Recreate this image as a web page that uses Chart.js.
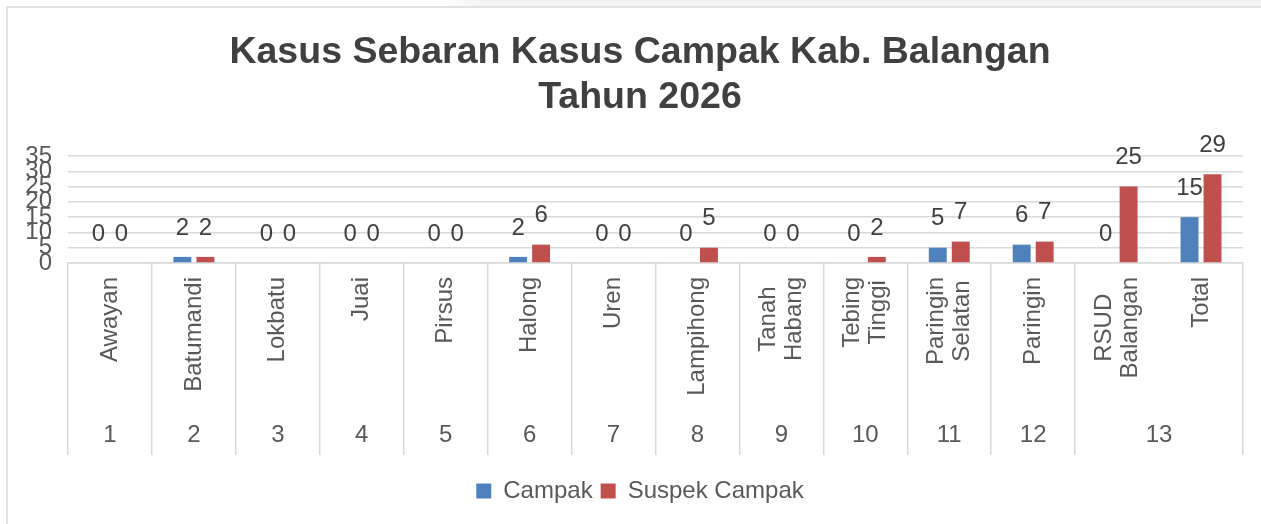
<!DOCTYPE html>
<html lang="id">
<head>
<meta charset="UTF-8">
<title>Kasus Sebaran Kasus Campak Kab. Balangan</title>
<script src="https://cdn.jsdelivr.net/npm/chart.js@4.4.1/dist/chart.umd.min.js"></script>
<style>
  html, body { margin: 0; padding: 0; background: #fff; }
  #wrap { position: relative; width: 1261px; height: 524px; overflow: hidden; }
  #strip { position: absolute; left: 440px; top: 0; width: 821px; height: 6px;
           background: linear-gradient(to right, #fff 0, #f3f3f3 40px, #f3f3f3 100%); }
  #frame { position: absolute; left: 6px; top: 6px; width: 1300px; height: 600px;
           border-top: 2px solid #e2e2e2; border-left: 2px solid #e2e2e2; }
  canvas { position: absolute; left: 0; top: 0; }
</style>
</head>
<body>
<div id="wrap">
  <div id="strip"></div>
  <div id="frame"></div>
  <canvas id="chart" width="1261" height="524"></canvas>
</div>
<script>
// categories (one entry per bar pair; multi-line names as arrays)
const categories = [
  'Awayan', 'Batumandi', 'Lokbatu', 'Juai', 'Pirsus', 'Halong', 'Uren',
  'Lampihong', ['Tanah', 'Habang'], ['Tebing', 'Tinggi'], ['Paringin', 'Selatan'],
  'Paringin', ['RSUD', 'Balangan'], 'Total'
];
// group row under the names: label and how many categories it spans
const groupLabels = ['1', '2', '3', '4', '5', '6', '7', '8', '9', '10', '11', '12', '13'];
const groupSpans  = [1, 1, 1, 1, 1, 1, 1, 1, 1, 1, 1, 1, 2];

const campak       = [0, 2, 0, 0, 0, 2, 0, 0, 0, 0, 5, 6, 0, 15];
const suspekCampak = [0, 2, 0, 0, 0, 6, 0, 5, 0, 2, 7, 7, 25, 29];

const yTicks = [0, 5, 10, 15, 20, 25, 30, 35];

const FONT = "'Liberation Sans', Arial, Helvetica, sans-serif";
const GRID = '#d9d9d9';
const TEXT = '#595959';

// tick indexes that sit inside a group (no separator line drawn there)
const innerBounds = [];
let start = 0;
groupSpans.forEach(span => {
  for (let k = 1; k < span; k++) innerBounds.push(start + k);
  start += span;
});

// y scale is kept narrow so title/legend centre like the original,
// widen its box after layout so the tick labels are not clipped
const widenY = {
  id: 'widenY',
  afterLayout(chart) {
    chart.scales.y.left = 8;
  }
};

// value labels above every bar
const valueLabels = {
  id: 'valueLabels',
  afterDatasetsDraw(chart) {
    const ctx = chart.ctx;
    ctx.save();
    ctx.font = '24px ' + FONT;
    ctx.fillStyle = '#404040';
    ctx.textAlign = 'center';
    ctx.textBaseline = 'middle';
    chart.data.datasets.forEach((ds, di) => {
      chart.getDatasetMeta(di).data.forEach((bar, i) => {
        ctx.fillText(String(ds.data[i]), bar.x, bar.y - 29);
      });
    });
    ctx.restore();
  }
};

// rotated category names + group numbers under the x axis
const groupedAxis = {
  id: 'groupedAxis',
  afterDraw(chart) {
    const ctx = chart.ctx;
    const x = chart.scales.x;
    const top = x.top + 14;
    ctx.save();
    ctx.font = '24px ' + FONT;
    ctx.fillStyle = TEXT;
    categories.forEach((cat, i) => {
      const lines = Array.isArray(cat) ? cat : [cat];
      const w = Math.max(...lines.map(l => ctx.measureText(l).width));
      const cx = x.getPixelForValue(i);
      lines.forEach((line, j) => {
        const lx = cx + (j - (lines.length - 1) / 2) * 26;
        ctx.save();
        ctx.translate(lx, top);
        ctx.rotate(-Math.PI / 2);
        ctx.textAlign = 'center';
        ctx.textBaseline = 'middle';
        ctx.fillText(line, -w / 2, 0);
        ctx.restore();
      });
    });
    ctx.textAlign = 'center';
    ctx.textBaseline = 'middle';
    let s = 0;
    groupLabels.forEach((g, gi) => {
      const e = s + groupSpans[gi] - 1;
      const gx = (x.getPixelForValue(s) + x.getPixelForValue(e)) / 2;
      ctx.fillText(g, gx, x.top + 172);
      s = e + 1;
    });
    ctx.restore();
  }
};

new Chart(document.getElementById('chart'), {
  type: 'bar',
  data: {
    labels: categories,
    datasets: [
      { label: 'Campak', data: campak, backgroundColor: '#4f81bd', borderWidth: 0 },
      { label: 'Suspek Campak', data: suspekCampak, backgroundColor: '#c0504d', borderWidth: 0 }
    ]
  },
  options: {
    responsive: false,
    animation: false,
    devicePixelRatio: 1,
    categoryPercentage: 0.548,
    barPercentage: 0.78,
    layout: { padding: { left: 37, right: 18, top: 8, bottom: 11 } },
    plugins: {
      title: {
        display: true,
        text: ['Kasus Sebaran Kasus Campak Kab. Balangan', 'Tahun 2026'],
        color: '#404040',
        font: { family: FONT, size: 37.5, weight: 'bold', lineHeight: 1.2 },
        padding: { top: 22, bottom: 36 }
      },
      legend: {
        position: 'bottom',
        labels: {
          color: TEXT,
          font: { family: FONT, size: 24 },
          boxWidth: 15,
          boxHeight: 15,
          padding: 8
        }
      },
      tooltip: { enabled: false }
    },
    scales: {
      x: {
        offset: true,
        grid: {
          offset: true,
          drawOnChartArea: false,
          drawTicks: true,
          tickLength: 192,
          lineWidth: 1.5,
          color: c => (c.index !== undefined && innerBounds.includes(c.index)) ? 'rgba(0,0,0,0)' : GRID
        },
        border: { display: true, color: GRID, width: 1.5 },
        ticks: { display: false },
        afterFit: s => { s.height = 208; }
      },
      y: {
        min: 0,
        max: 35,
        afterBuildTicks: s => { s.ticks = yTicks.map(v => ({ value: v })); },
        grid: { color: GRID, lineWidth: 1.5, drawTicks: false },
        border: { display: false },
        ticks: {
          autoSkip: false,
          color: TEXT,
          font: { family: FONT, size: 24 },
          padding: 16
        },
        afterFit: s => { s.width = 31; }
      }
    }
  },
  plugins: [widenY, valueLabels, groupedAxis]
});
</script>
</body>
</html>
